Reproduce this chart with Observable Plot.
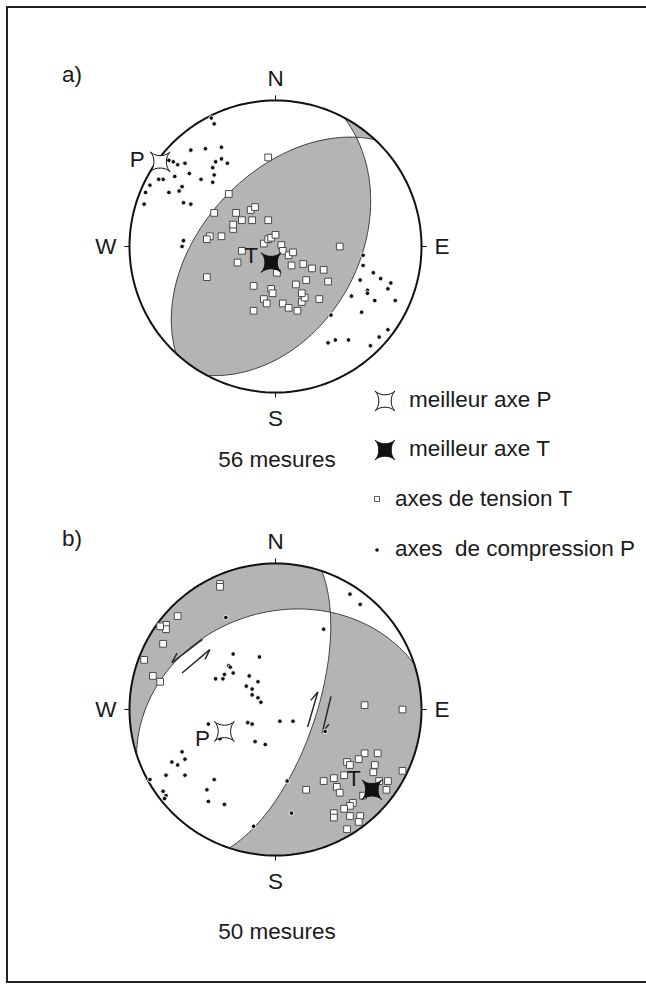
<!DOCTYPE html>
<html>
<head>
<meta charset="utf-8">
<script src="https://cdn.jsdelivr.net/npm/d3@7"></script>
<script src="https://cdn.jsdelivr.net/npm/@observablehq/plot@0.6"></script>
<style>
  body { margin: 0; background: #fff; }
  #page { position: relative; width: 646px; height: 984px; overflow: hidden; background: #fff;
          font-family: "Liberation Sans", Arial, Helvetica, sans-serif; color: #1a1a1a; }
  #frame { position: absolute; left: 6px; top: 6px; width: 720px; height: 977px;
           box-sizing: border-box; border: 2px solid #222; }
  .lbl { position: absolute; font-size: 22.5px; line-height: 22.5px; white-space: pre; }
  .plot { position: absolute; left: 0; }
  .icon { position: absolute; overflow: visible; }
</style>
</head>
<body>
<div id="page"><div id="frame"></div></div>
<script>
// ---------------- data ----------------
const cardinals = ["N", "E", "S", "W"];
const cardinalAz = [0, 90, 180, 270];
const counts = [56, 50];
const panelLabels = ["a)", "b)"];

// nodal planes: strike (right-hand rule) and dip, in degrees
const planeStrikeA = [223, 28];
const planeDipA = [50, 42.5];
const planeStrikeB = [18.5, 252];
const planeDipB = [67.5, 34];

// axes in equal-area lower-hemisphere projection (unit radius): [east, north]
const tensionA = [
  [-0.05,0.61],[-0.32,0.36],[-0.42,0.23],[-0.27,0.23],[-0.17,0.25],[-0.14,0.27],[-0.23,0.18],[-0.16,0.18],
  [-0.05,0.18],[-0.29,0.12],[-0.29,0.15],[-0.37,0.07],[-0.45,0.07],[-0.47,0.05],[-0.08,0.02],[-0.05,0.05],
  [-0.03,0.06],[0.00,0.08],[0.04,0.01],[0.05,-0.03],[0.09,-0.06],[0.12,-0.04],[0.44,0.00],[-0.23,-0.03],
  [-0.26,-0.11],[0.01,-0.18],[0.11,-0.13],[0.19,-0.12],[0.25,-0.15],[0.33,-0.16],[0.36,-0.24],[0.21,-0.23],
  [0.14,-0.26],[-0.15,-0.27],[-0.47,-0.21],[-0.03,-0.29],[-0.02,-0.32],[-0.08,-0.36],[-0.06,-0.39],[-0.15,-0.44],
  [0.05,-0.39],[0.09,-0.42],[0.15,-0.44],[0.18,-0.38],[0.20,-0.35],[0.18,-0.32],[0.30,-0.36]
];
const compressionA = [
  [-0.44,0.88],[-0.42,0.84],[-0.58,0.66],[-0.48,0.67],[-0.37,0.68],[-0.67,0.56],[-0.62,0.57],[-0.41,0.58],
  [-0.37,0.60],[-0.33,0.57],[-0.73,0.59],[-0.70,0.58],[-0.69,0.48],[-0.59,0.50],[-0.43,0.54],[-0.42,0.49],
  [-0.77,0.46],[-0.80,0.46],[-0.86,0.42],[-0.51,0.46],[-0.43,0.44],[-0.64,0.41],[-0.66,0.38],[-0.73,0.37],
  [-0.89,0.37],[-0.90,0.29],[-0.63,0.30],[-0.58,0.29],[-0.63,0.04],[-0.64,0.00],
  [0.60,-0.06],[0.60,-0.13],[0.67,-0.18],[0.72,-0.22],[0.79,-0.25],[0.58,-0.23],[0.63,-0.30],[0.63,-0.32],
  [0.77,-0.29],[0.68,-0.37],[0.82,-0.37],[0.52,-0.34],[0.59,-0.45],[0.38,-0.47],[0.77,-0.57],[0.71,-0.62],
  [0.65,-0.68],[0.36,-0.66],[0.41,-0.64],[0.50,-0.64]
];
const bestPA = [-0.79, 0.58];
const bestTA = [-0.03, -0.11];

const tensionB = [
  [-0.38,0.86],[-0.38,0.84],[-0.67,0.64],[-0.75,0.58],[-0.75,0.55],[-0.79,0.57],[-0.77,0.45],[-0.90,0.34],
  [-0.84,0.23],[-0.79,0.19],[0.61,0.03],[0.87,0.00],
  [0.61,-0.30],[0.70,-0.30],[0.57,-0.34],[0.49,-0.36],[0.51,-0.38],[0.68,-0.38],[0.87,-0.42],[0.67,-0.43],
  [0.47,-0.45],[0.40,-0.47],[0.33,-0.49],[0.77,-0.49],[0.71,-0.49],[0.42,-0.53],[0.44,-0.57],[0.21,-0.55],
  [0.76,-0.55],[0.60,-0.59],[0.53,-0.64],[0.51,-0.66],[0.47,-0.68],[0.40,-0.71],[0.40,-0.74],[0.51,-0.73],
  [0.58,-0.73],[0.57,-0.77],[0.49,-0.82]
];
const compressionB = [
  [0.51,0.79],[0.58,0.72],[-0.34,0.63],[0.33,0.55],[-0.29,0.38],[-0.11,0.36],[-0.32,0.30],[-0.31,0.29],
  [-0.29,0.25],[-0.35,0.24],[-0.41,0.21],[-0.36,0.21],[-0.18,0.23],[-0.12,0.19],[-0.20,0.16],[-0.16,0.14],
  [-0.16,0.10],[-0.12,0.08],[-0.10,0.05],[0.03,-0.08],[0.12,-0.08],[-0.19,-0.09],[-0.16,-0.10],[-0.46,-0.10],
  [0.34,-0.15],[-0.38,-0.20],[-0.14,-0.22],[-0.07,-0.24],[-0.64,-0.29],[-0.62,-0.34],[-0.71,-0.36],[-0.67,-0.38],
  [-0.75,-0.45],[-0.62,-0.45],[-0.86,-0.48],[-0.42,-0.48],[-0.47,-0.55],[-0.77,-0.56],[-0.75,-0.59],[-0.76,-0.61],
  [-0.46,-0.63],[-0.35,-0.65],[0.08,-0.49],[-0.15,-0.80],[0.11,-0.71]
];
const bestPB = [-0.35, -0.15];
const bestTB = [0.66, -0.55];

// slip-sense half arrows along the nodal planes of b): [x tail, y tail, x tip, y tip]
const slipArrowsB = [
  [-0.50, 0.48, -0.71, 0.32],
  [-0.64, 0.25, -0.45, 0.41],
  [0.22, -0.12, 0.29, 0.12],
  [0.38, 0.09, 0.32, -0.16]
];
const barbSideB = [1, 1, -1, -1];

const legendLabels = ["meilleur axe P", "meilleur axe T", "axes de tension T", "axes  de compression P"];

// ---------------- geometry helpers ----------------
const FONT = '"Liberation Sans", Arial, Helvetica, sans-serif';
const GRAY = "#b4b4b4";
const rad = Math.PI / 180;
const cross = (a, b) => [a[1]*b[2]-a[2]*b[1], a[2]*b[0]-a[0]*b[2], a[0]*b[1]-a[1]*b[0]];
const dot3 = (a, b) => a[0]*b[0] + a[1]*b[1] + a[2]*b[2];
const norm = v => { const l = Math.hypot(...v); return v.map(x => x / l); };
const horiz = az => [Math.sin(az*rad), Math.cos(az*rad), 0];

function plane(strike, dip) {
  const s = horiz(strike);
  const dd = (strike + 90) * rad;
  const d = [Math.cos(dip*rad)*Math.sin(dd), Math.cos(dip*rad)*Math.cos(dd), -Math.sin(dip*rad)];
  return {s, d, n: cross(s, d), strike};
}
function proj(v) { // equal-area (Schmidt), lower hemisphere
  let [e, n, u] = v;
  if (u > 0) { e = -e; n = -n; u = -u; }
  const th = Math.acos(Math.max(-1, Math.min(1, -u)));
  const r = Math.SQRT2 * Math.sin(th / 2);
  const h = Math.hypot(e, n);
  return h < 1e-12 ? {x: 0, y: 0} : {x: r*e/h, y: r*n/h};
}
function slerp(a, b, steps = 80) {
  const om = Math.acos(Math.max(-1, Math.min(1, dot3(a, b))));
  const out = [];
  for (let i = 0; i <= steps; i++) {
    const t = i / steps;
    if (om < 1e-9) { out.push(a); continue; }
    const k1 = Math.sin((1-t)*om) / Math.sin(om), k2 = Math.sin(t*om) / Math.sin(om);
    out.push(a.map((x, j) => k1*x + k2*b[j]));
  }
  return out;
}
function primArc(a1, a2, steps = 60) {
  const d = (((a2 - a1) % 360) + 540) % 360 - 180;
  return d3.range(steps + 1).map(i => horiz(a1 + d * i / steps));
}
function intersect(p, q) {
  let L = norm(cross(p.n, q.n));
  if (L[2] > 0) L = L.map(x => -x);
  return L;
}
const greatCircle = p => [...slerp(p.s, p.d), ...slerp(p.d, p.s.map(x => -x)).slice(1)];
const toXY = pts => pts.map(proj);

// concave four-pointed star symbol (best axes)
const star = {
  draw(ctx, size) {
    const R = Math.sqrt(size / Math.PI), a = R * Math.SQRT1_2, k = 0.5 * a;
    ctx.moveTo(a, a);
    ctx.bezierCurveTo(k, k, -k, k, -a, a);
    ctx.bezierCurveTo(-k, k, -k, -k, -a, -a);
    ctx.bezierCurveTo(-k, -k, k, -k, a, -a);
    ctx.bezierCurveTo(k, -k, k, k, a, a);
    ctx.closePath();
  }
};

function barb(a, side) {
  const [x1, y1, x2, y2] = a;
  const dx = x1 - x2, dy = y1 - y2, l = Math.hypot(dx, dy);
  const ux = dx / l, uy = dy / l, t = side * 24 * rad;
  const bx = ux*Math.cos(t) - uy*Math.sin(t), by = ux*Math.sin(t) + uy*Math.cos(t);
  return {x1: x2, y1: y2, x2: x2 + 0.075*bx, y2: y2 + 0.075*by};
}

// ---------------- one stereonet ----------------
function net({regions, planes, tension, compression, bestP, bestT, tDx, tDy, pDx, pDy, arrows, sides}) {
  const circle = d3.range(0, 361, 2).map(a => ({x: Math.sin(a*rad), y: Math.cos(a*rad)}));
  const cardOpts = [
    {dx: 0, dy: -22, textAnchor: "middle"},
    {dx: 13, dy: 0, textAnchor: "start"},
    {dx: 0, dy: 26, textAnchor: "middle"},
    {dx: -13, dy: 0, textAnchor: "end"}
  ];
  const marks = [
    ...regions.map(r => Plot.line(toXY(r), {x: "x", y: "y", fill: GRAY, stroke: "none"})),
    ...planes.map(p => Plot.line(toXY(greatCircle(p)), {x: "x", y: "y", stroke: "#3c3c3c", strokeWidth: 1})),
    Plot.line(circle, {x: "x", y: "y", stroke: "#111", strokeWidth: 2}),
    Plot.link(cardinalAz, {
      x1: a => Math.sin(a*rad), y1: a => Math.cos(a*rad),
      x2: a => 1.035*Math.sin(a*rad), y2: a => 1.035*Math.cos(a*rad),
      stroke: "#111", strokeWidth: 1
    }),
    ...cardinals.map((c, i) => Plot.text([c], {
      x: Math.sin(cardinalAz[i]*rad), y: Math.cos(cardinalAz[i]*rad), text: d => d,
      fontSize: 22.5, fill: "#1a1a1a", ...cardOpts[i]
    }))
  ];
  if (arrows) {
    marks.push(Plot.link(arrows, {x1: d => d[0], y1: d => d[1], x2: d => d[2], y2: d => d[3], stroke: "#222", strokeWidth: 1.4}));
    marks.push(Plot.link(arrows.map((a, i) => barb(a, sides[i])), {x1: "x1", y1: "y1", x2: "x2", y2: "y2", stroke: "#222", strokeWidth: 1.4}));
  }
  marks.push(
    Plot.dot(tension, {x: d => d[0], y: d => d[1], symbol: "square", r: 3.8, fill: "white", stroke: "#4a4a4a", strokeWidth: 1}),
    Plot.dot(compression, {x: d => d[0], y: d => d[1], r: 2.3, fill: "#111", stroke: "white", strokeWidth: 0.9}),
    Plot.dot([bestP], {x: d => d[0], y: d => d[1], symbol: star, r: 14, fill: "white", stroke: "#111", strokeWidth: 1}),
    Plot.dot([bestT], {x: d => d[0], y: d => d[1], symbol: star, r: 14, fill: "#111", stroke: "#111", strokeWidth: 1}),
    Plot.text([bestP], {x: d => d[0], y: d => d[1], text: () => "P", dx: pDx, dy: pDy, fontSize: 22.5, fill: "#1a1a1a"}),
    Plot.text([bestT], {x: d => d[0], y: d => d[1], text: () => "T", dx: tDx, dy: tDy, fontSize: 22.5, fill: "#1a1a1a"})
  );
  return Plot.plot({
    width: 646, height: 463,
    x: {domain: [-1, 1], range: [129, 421], axis: null},
    y: {domain: [-1, 1], range: [392, 100], axis: null},
    style: {fontFamily: FONT, background: "transparent", overflow: "visible"},
    marks
  });
}

// regions of a)
const pA = planeStrikeA.map((s, i) => plane(s, planeDipA[i]));
const LA = intersect(pA[0], pA[1]);
const sA = planeStrikeA[0], sB = planeStrikeA[1];
const regionsA = [
  [...slerp(horiz(sA), LA), ...slerp(LA, horiz(sB + 180)), ...primArc(sB + 180, sA)],
  [...slerp(LA, horiz(sA + 180)), ...primArc(sA + 180, sB), ...slerp(horiz(sB), LA)]
];
// regions of b)
const pB = planeStrikeB.map((s, i) => plane(s, planeDipB[i]));
const LB = intersect(pB[0], pB[1]);
const sC = planeStrikeB[0], sD = planeStrikeB[1];
const regionsB = [
  [...primArc(sD, sC), ...slerp(horiz(sC), LB), ...slerp(LB, horiz(sD))],
  [...slerp(LB, horiz(sC + 180)), ...primArc(sC + 180, sD - 180), ...slerp(horiz(sD - 180), LB)]
];

const page = document.getElementById("page");
const plotA = net({regions: regionsA, planes: pA, tension: tensionA, compression: compressionA,
  bestP: bestPA, bestT: bestTA, pDx: -23, pDy: -2, tDx: -20, tDy: -7});
plotA.classList.add("plot"); plotA.style.top = "0px";
page.appendChild(plotA);
const plotB = net({regions: regionsB, planes: pB, tension: tensionB, compression: compressionB,
  bestP: bestPB, bestT: bestTB, pDx: -22, pDy: 7, tDx: -18, tDy: -11, arrows: slipArrowsB, sides: barbSideB});
plotB.classList.add("plot"); plotB.style.top = "463px";
page.appendChild(plotB);

// ---------------- texts ----------------
function label(text, left, top, center) {
  const el = document.createElement("div");
  el.className = "lbl";
  el.textContent = text;
  el.style.top = top + "px";
  if (center) { el.style.left = (left - 150) + "px"; el.style.width = "300px"; el.style.textAlign = "center"; }
  else el.style.left = left + "px";
  page.appendChild(el);
}
label(panelLabels[0], 62, 64);
label(panelLabels[1], 62, 528);
label(`${counts[0]} mesures`, 277, 449, true);
label(`${counts[1]} mesures`, 277, 921, true);

// legend
const legendTops = [389, 438, 488, 538];
const legendLeft = [409, 409, 395, 395];
legendLabels.forEach((t, i) => label(t, legendLeft[i], legendTops[i]));
const starPath = d3.symbol().type(star).size(Math.PI * 14 * 14)();
const iconDefs = [
  {cx: 385, cy: 401, html: `<path d="${starPath}" fill="white" stroke="#111" stroke-width="1"/>`},
  {cx: 385, cy: 450, html: `<path d="${starPath}" fill="#111" stroke="#111" stroke-width="1"/>`},
  {cx: 377, cy: 499, html: `<rect x="-2.5" y="-2.5" width="5" height="5" fill="white" stroke="#666" stroke-width="1"/>`},
  {cx: 377, cy: 550, html: `<circle r="1.8" fill="#111"/>`}
];
iconDefs.forEach(d => {
  const svg = document.createElementNS("http://www.w3.org/2000/svg", "svg");
  svg.setAttribute("class", "icon");
  svg.setAttribute("width", 30); svg.setAttribute("height", 30);
  svg.setAttribute("viewBox", "-15 -15 30 30");
  svg.style.left = (d.cx - 15) + "px"; svg.style.top = (d.cy - 15) + "px";
  svg.innerHTML = d.html;
  page.appendChild(svg);
});
</script>
</body>
</html>
